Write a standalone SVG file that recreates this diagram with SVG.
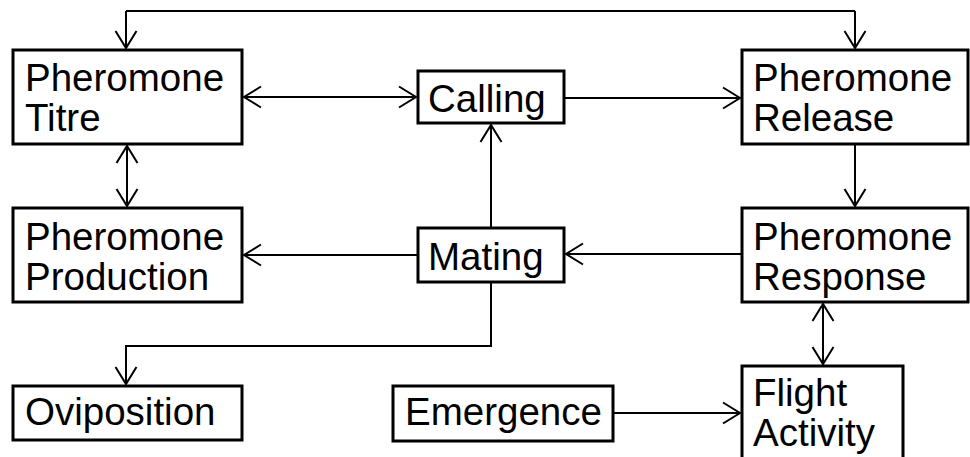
<svg xmlns="http://www.w3.org/2000/svg" width="970" height="457" viewBox="0 0 970 457">
  <style>
    .box { fill: #ffffff; stroke: #000000; stroke-width: 3; }
    .lbl { font-family: "Liberation Sans", Arial, sans-serif; font-size: 38.5px; fill: #000000; }
    .edge { fill: none; stroke: #000000; stroke-width: 2; }
    .fwd { marker-end: url(#arrow); }
    .both { marker-start: url(#arrow); marker-end: url(#arrow); }
  </style>
  <defs>
    <marker id="arrow" markerUnits="userSpaceOnUse" viewBox="-19 -12 21 24" refX="0" refY="0" markerWidth="21" markerHeight="24" orient="auto-start-reverse">
      <path d="M-17,-10.5 L0,0 L-17,10.5" fill="none" stroke="#000000" stroke-width="2"/>
    </marker>
  </defs>
  <rect width="970" height="457" fill="#ffffff"/>

  <!-- connectors -->
  <g id="connectors">
    <path class="edge" d="M126,11 H855"/>
    <path class="edge fwd" d="M126,11 V48"/>
    <path class="edge fwd" d="M855,11 V48"/>
    <path class="edge both" d="M244,97 H416"/>
    <path class="edge fwd" d="M564,98 H740"/>
    <path class="edge both" d="M127,146 V206"/>
    <path class="edge fwd" d="M855,144 V206"/>
    <path class="edge fwd" d="M491,228 V125"/>
    <path class="edge fwd" d="M418,255 H244"/>
    <path class="edge fwd" d="M742,254 H566"/>
    <path class="edge fwd" d="M491,282 V346 H126 V384"/>
    <path class="edge both" d="M823,304 V364"/>
    <path class="edge fwd" d="M613,413 H740"/>
  </g>

  <!-- nodes -->
  <g id="pheromone-titre">
    <rect class="box" x="13" y="50" width="229" height="94"/>
    <text class="lbl" x="25" y="91">Pheromone</text>
    <text class="lbl" x="25" y="131">Titre</text>
  </g>
  <g id="calling">
    <rect class="box" x="418" y="71" width="146" height="52"/>
    <text class="lbl" x="428" y="112">Calling</text>
  </g>
  <g id="pheromone-release">
    <rect class="box" x="742" y="50" width="226" height="94"/>
    <text class="lbl" x="753" y="91">Pheromone</text>
    <text class="lbl" x="753" y="131">Release</text>
  </g>
  <g id="pheromone-production">
    <rect class="box" x="13" y="208" width="229" height="94"/>
    <text class="lbl" x="25" y="250">Pheromone</text>
    <text class="lbl" x="25" y="290">Production</text>
  </g>
  <g id="mating">
    <rect class="box" x="418" y="228" width="146" height="54"/>
    <text class="lbl" x="428" y="270">Mating</text>
  </g>
  <g id="pheromone-response">
    <rect class="box" x="742" y="208" width="226" height="94"/>
    <text class="lbl" x="753" y="250">Pheromone</text>
    <text class="lbl" x="753" y="290">Response</text>
  </g>
  <g id="oviposition">
    <rect class="box" x="13" y="386" width="229" height="54"/>
    <text class="lbl" x="25" y="425">Oviposition</text>
  </g>
  <g id="emergence">
    <rect class="box" x="393" y="386" width="220" height="55"/>
    <text class="lbl" x="405" y="425">Emergence</text>
  </g>
  <g id="flight-activity">
    <rect class="box" x="742" y="366" width="161" height="94"/>
    <text class="lbl" x="753" y="406">Flight</text>
    <text class="lbl" x="753" y="446">Activity</text>
  </g>
</svg>
